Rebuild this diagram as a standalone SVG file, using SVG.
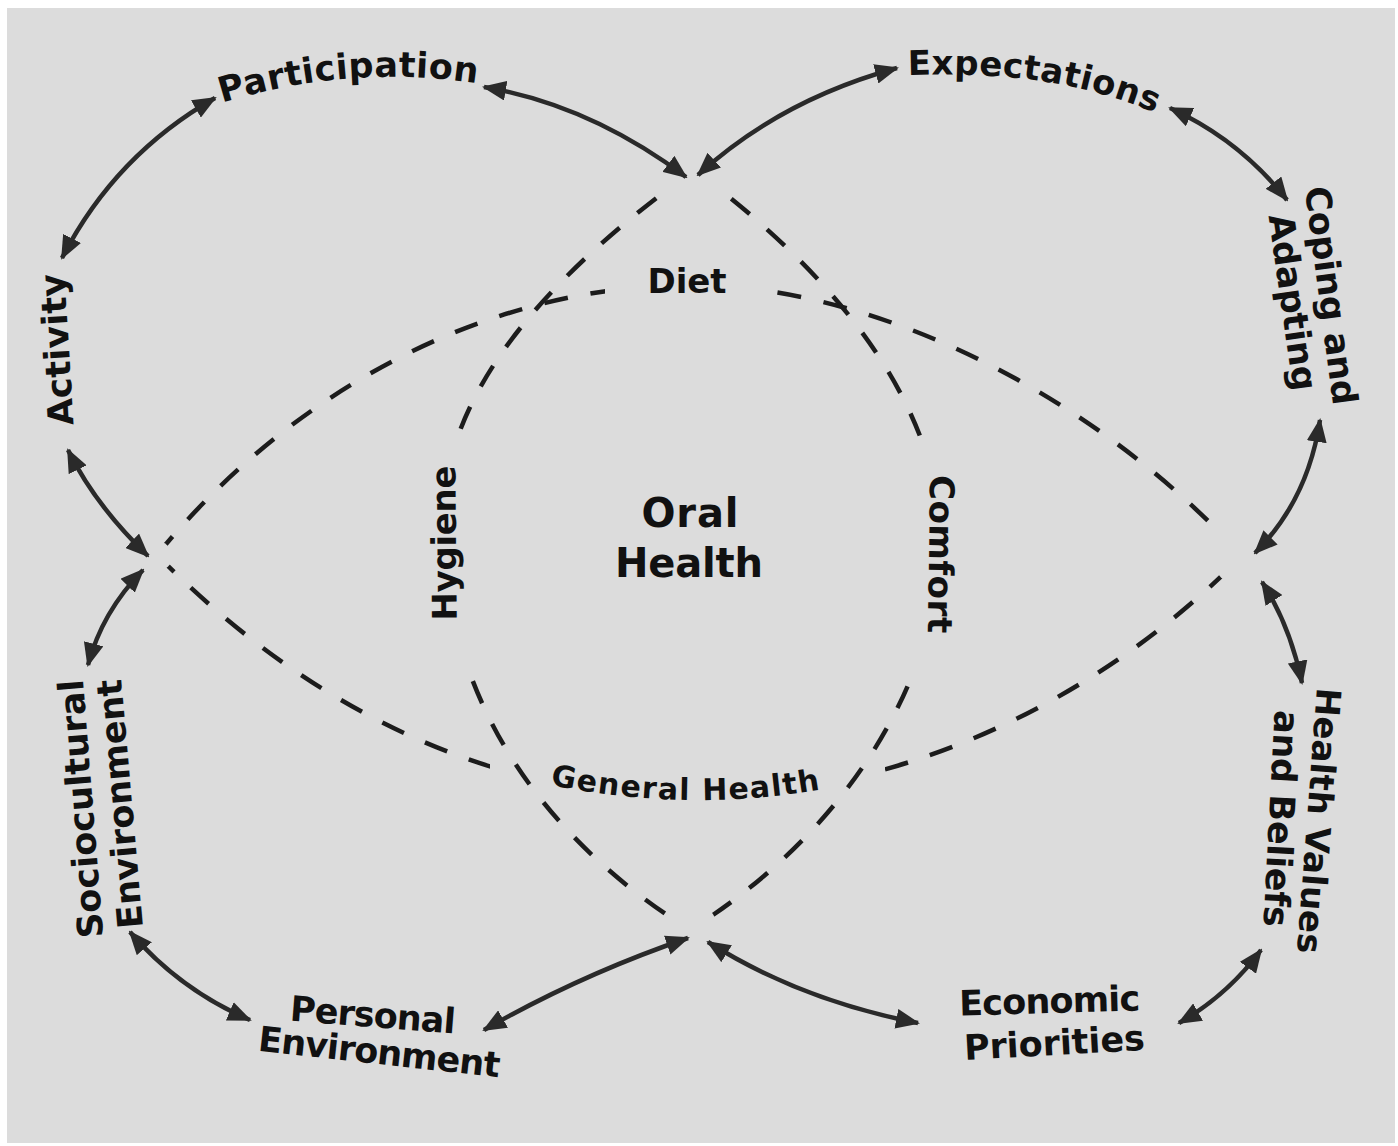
<svg xmlns="http://www.w3.org/2000/svg" width="1398" height="1146" viewBox="0 0 1398 1146">
<style>
  .lbl { font-family: "DejaVu Sans", "Liberation Sans", sans-serif; font-weight: bold; fill: #111111; }
  .outer { font-size: 35px; }
  .inner { font-size: 34px; }
  .dash { fill: none; stroke: #1c1c1c; stroke-width: 4.5; stroke-dasharray: 24 23; }
  .arr { fill: none; stroke: #2a2a2a; stroke-width: 4.5; marker-start: url(#ah); marker-end: url(#ah); }
</style>
<defs>
  <marker id="ah" viewBox="0 0 24 20" refX="22" refY="10" markerWidth="24" markerHeight="20" markerUnits="userSpaceOnUse" orient="auto-start-reverse">
    <path d="M0,0 L24,10 L0,20 z" fill="#2a2a2a"/>
  </marker>
  <path id="tp-participation" d="M 222,103 Q 350,63 482,84"/>
  <path id="tp-expectations" d="M 908,75 C 1000,72 1080,80 1160,115"/>
  <path id="tp-general" d="M 550,785 Q 690,813 824,789"/>
  <mask id="m-top" maskUnits="userSpaceOnUse" x="0" y="0" width="1398" height="1146">
    <rect x="0" y="0" width="1398" height="1146" fill="#fff"/>
    <rect x="605" y="250" width="152" height="56" fill="#000"/>
    <circle cx="157" cy="555" r="14" fill="#000"/>
    <circle cx="1242" cy="556" r="30" fill="#000"/>
  </mask>
  <mask id="m-bot" maskUnits="userSpaceOnUse" x="0" y="0" width="1398" height="1146">
    <rect x="0" y="0" width="1398" height="1146" fill="#fff"/>
    <rect x="490" y="750" width="395" height="70" fill="#000"/>
    <circle cx="157" cy="555" r="16" fill="#000"/>
    <circle cx="1242" cy="556" r="30" fill="#000"/>
  </mask>
  <mask id="m-left" maskUnits="userSpaceOnUse" x="0" y="0" width="1398" height="1146">
    <rect x="0" y="0" width="1398" height="1146" fill="#fff"/>
    <rect x="415" y="446" width="60" height="214" fill="#000"/>
    <circle cx="694" cy="170" r="30" fill="#000"/>
    <circle cx="690" cy="930" r="28" fill="#000"/>
  </mask>
  <mask id="m-right" maskUnits="userSpaceOnUse" x="0" y="0" width="1398" height="1146">
    <rect x="0" y="0" width="1398" height="1146" fill="#fff"/>
    <rect x="912" y="448" width="60" height="218" fill="#000"/>
    <circle cx="694" cy="170" r="30" fill="#000"/>
    <circle cx="690" cy="930" r="28" fill="#000"/>
  </mask>
</defs>

<rect x="0" y="0" width="1398" height="1146" fill="#ffffff"/>
<rect x="7" y="8" width="1388" height="1135" fill="#dcdcdc"/>

<g id="connectors">
  <path class="dash" mask="url(#m-top)" d="M 157,555 C 300,380 500,285 690,285 C 880,285 1100,400 1242,556"/>
  <path class="dash" mask="url(#m-bot)" d="M 157,555 C 300,700 480,797 690,797 C 900,797 1100,700 1242,556"/>
  <path class="dash" mask="url(#m-left)" d="M 694,170 C 520,295 430,420 445,545 C 450,690 530,830 690,930"/>
  <path class="dash" mask="url(#m-right)" d="M 694,170 C 850,285 945,420 940,550 C 935,680 850,830 690,930"/>

  <path class="arr" d="M 62,258 Q 115,155 215,98"/>
  <path class="arr" d="M 484,87 Q 590,105 686,177"/>
  <path class="arr" d="M 698,175 Q 780,100 897,68"/>
  <path class="arr" d="M 1170,108 Q 1240,140 1287,200"/>
  <path class="arr" d="M 1320,420 Q 1308,500 1255,553"/>
  <path class="arr" d="M 1262,582 Q 1290,625 1302,683"/>
  <path class="arr" d="M 1261,950 Q 1228,995 1179,1023"/>
  <path class="arr" d="M 918,1023 Q 800,1000 708,942"/>
  <path class="arr" d="M 688,938 Q 580,975 484,1030"/>
  <path class="arr" d="M 250,1020 Q 180,990 130,932"/>
  <path class="arr" d="M 88,665 Q 102,612 143,570"/>
  <path class="arr" d="M 68,450 Q 95,505 148,556"/>
</g>

<g id="node-oral-health">
  <text class="lbl" x="690" y="527" font-size="40" text-anchor="middle" textLength="97">Oral</text>
  <text class="lbl" x="689" y="577" font-size="40" text-anchor="middle" textLength="148">Health</text>
</g>
<g id="node-diet">
  <text class="lbl inner" x="687" y="293" text-anchor="middle" textLength="79">Diet</text>
</g>
<g id="node-hygiene">
  <text class="lbl inner" transform="translate(456,543) rotate(-90.5)" text-anchor="middle" textLength="155">Hygiene</text>
</g>
<g id="node-comfort">
  <text class="lbl inner" transform="translate(929,554) rotate(90.8)" text-anchor="middle" textLength="158">Comfort</text>
</g>
<g id="node-general-health">
  <text class="lbl" font-size="30"><textPath href="#tp-general" textLength="272">General Health</textPath></text>
</g>

<g id="node-participation">
  <text class="lbl outer"><textPath href="#tp-participation" textLength="258">Participation</textPath></text>
</g>
<g id="node-expectations">
  <text class="lbl" font-size="34"><textPath href="#tp-expectations" textLength="252">Expectations</textPath></text>
</g>
<g id="node-coping">
  <text class="lbl outer" transform="translate(1319,297) rotate(82.5)" text-anchor="middle" textLength="220">Coping and</text>
  <text class="lbl outer" transform="translate(1281,304) rotate(82)" text-anchor="middle" textLength="178">Adapting</text>
</g>
<g id="node-activity">
  <text class="lbl outer" transform="translate(69,349) rotate(-93.4)" text-anchor="middle" textLength="152">Activity</text>
</g>
<g id="node-health-values">
  <text class="lbl" font-size="34" transform="translate(1307,820) rotate(94.3)" text-anchor="middle" textLength="266">Health Values</text>
  <text class="lbl outer" transform="translate(1269,818) rotate(93)" text-anchor="middle" textLength="217">and Beliefs</text>
</g>
<g id="node-sociocultural">
  <text class="lbl outer" transform="translate(93,808) rotate(-94.5)" text-anchor="middle" textLength="259">Sociocultural</text>
  <text class="lbl outer" transform="translate(132,803) rotate(-95)" text-anchor="middle" textLength="250">Environment</text>
</g>
<g id="node-personal">
  <text class="lbl outer" transform="translate(372,1027) rotate(4.5)" text-anchor="middle" textLength="166">Personal</text>
  <text class="lbl outer" transform="translate(378,1064) rotate(6.3)" text-anchor="middle" textLength="243">Environment</text>
</g>
<g id="node-economic">
  <text class="lbl outer" transform="translate(1050,1013) rotate(-1.6)" text-anchor="middle" textLength="181">Economic</text>
  <text class="lbl outer" transform="translate(1055,1055) rotate(-3.2)" text-anchor="middle" textLength="181">Priorities</text>
</g>
</svg>
